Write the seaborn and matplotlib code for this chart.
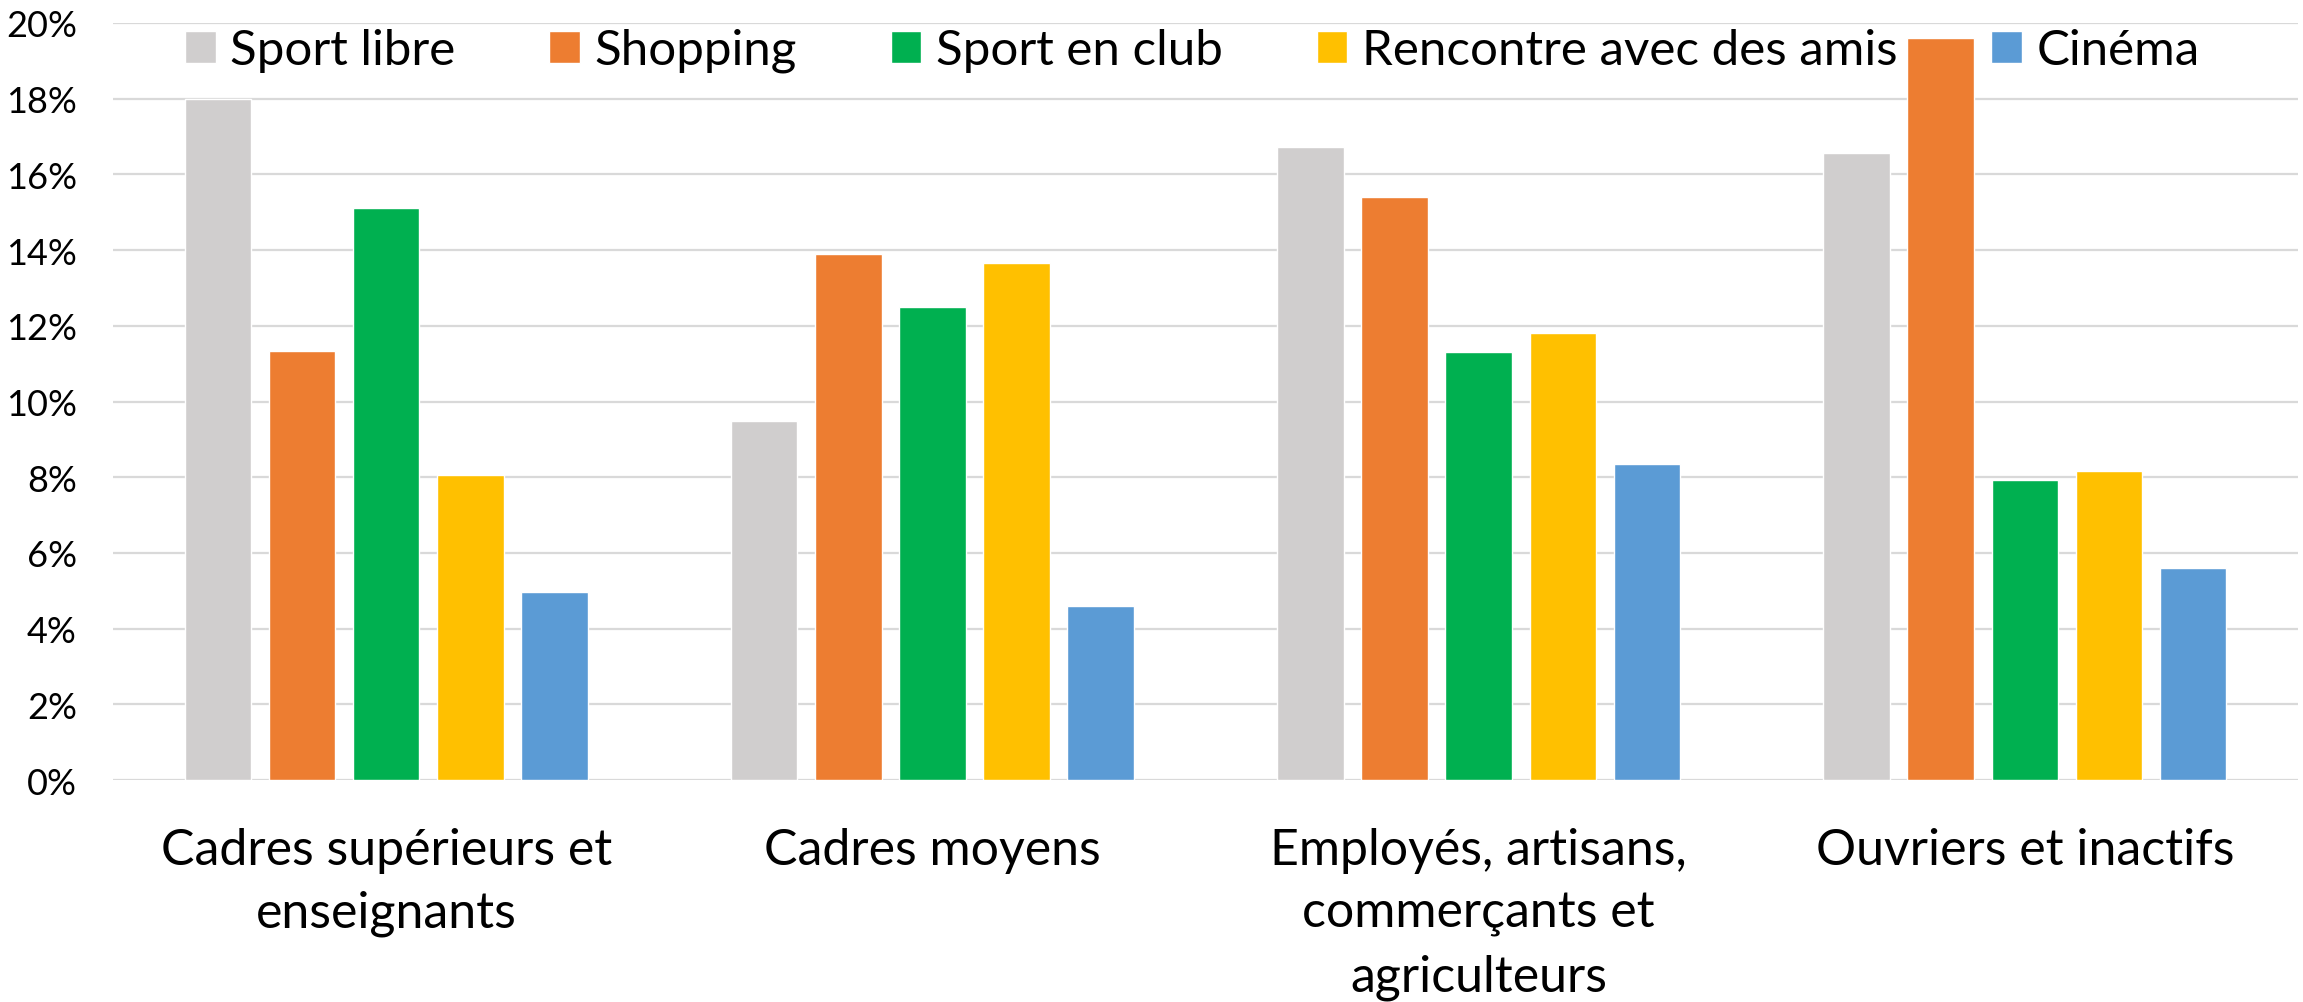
import pandas as pd
import seaborn as sns
import matplotlib.pyplot as plt
from matplotlib.ticker import FuncFormatter, MultipleLocator

# Categories and series (values in %)
groupes = ["Cadres supérieurs et\nenseignants", "Cadres moyens",
           "Employés, artisans,\ncommerçants et\nagriculteurs", "Ouvriers et inactifs"]
activites = ["Sport libre", "Shopping", "Sport en club", "Rencontre avec des amis", "Cinéma"]
sport_libre = [18.0, 9.48, 16.72, 16.56]
shopping = [11.33, 13.9, 15.4, 19.6]
sport_club = [15.11, 12.5, 11.31, 7.93]
rencontre = [8.06, 13.66, 11.8, 8.16]
cinema = [4.96, 4.61, 8.35, 5.59]
couleurs = ["#D0CECE", "#ED7D31", "#00B050", "#FFC000", "#5B9BD5"]

series = [sport_libre, shopping, sport_club, rencontre, cinema]
rows = []
for act, vals in zip(activites, series):
    for g, v in zip(groupes, vals):
        rows.append({"groupe": g, "activite": act, "valeur": v})
df = pd.DataFrame(rows)

sns.set_style("white")
plt.rcParams['font.family'] = ['Lato', 'DejaVu Sans']
plt.rcParams['text.color'] = 'black'
plt.rcParams['xtick.color'] = 'black'
plt.rcParams['ytick.color'] = 'black'

fig = plt.figure(figsize=(23.03, 10.03), dpi=100)
ax = fig.add_axes([0.0491, 0.2213, 0.9487, 0.7548])

sns.barplot(data=df, x="groupe", y="valeur", hue="activite", order=groupes,
            hue_order=activites, palette=couleurs, saturation=1, errorbar=None,
            width=0.77, gap=0.21, ax=ax, zorder=3)

ax.set_ylim(0, 20)
ax.set_xlim(-0.5, 3.5)
ax.yaxis.set_major_locator(MultipleLocator(2))
ax.yaxis.set_major_formatter(FuncFormatter(lambda v, p: f"{v:.0f}%"))
ax.grid(axis="y", color="#D9D9D9", linewidth=1.6, zorder=0)
ax.set_axisbelow(True)
for s in ax.spines.values():
    s.set_visible(False)
ax.set_xlabel("")
ax.set_ylabel("")
ax.tick_params(axis="y", length=0, pad=26, labelsize=26)
ax.tick_params(axis="x", length=0, pad=34, labelsize=36)
for lbl in ax.get_xticklabels():
    lbl.set_linespacing(1.45)

ax.legend(loc="center", bbox_to_anchor=(0.494, 0.964), ncol=5, frameon=False,
          fontsize=35.5, handlelength=0.62, handleheight=0.62, handletextpad=0.3,
          columnspacing=1.9, borderaxespad=0)

fig.savefig("out.png", dpi=100)
